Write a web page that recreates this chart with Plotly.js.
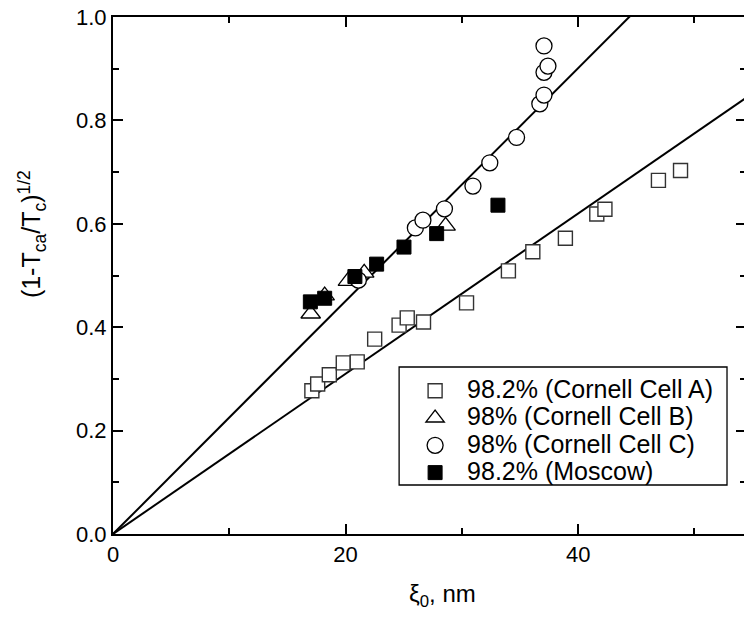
<!DOCTYPE html>
<html><head><meta charset="utf-8">
<script src="https://cdn.plot.ly/plotly-3.0.1.min.js"></script>
<style>html,body{margin:0;padding:0;overflow:hidden;background:#fff;width:744px;height:618px}#plot{width:746px;height:618px}</style>
</head><body><div id="plot"></div>
<script>
// Cornell Cell A (98.2%) - open squares
const cellA_x = [17.1, 17.6, 18.6, 19.8, 21.0, 22.5, 24.6, 25.3, 26.7, 30.4, 34.0, 36.1, 38.9, 41.6, 42.3, 46.9, 48.8];
const cellA_y = [0.277, 0.290, 0.308, 0.331, 0.333, 0.377, 0.404, 0.418, 0.410, 0.447, 0.509, 0.546, 0.572, 0.619, 0.628, 0.684, 0.703];
// Cornell Cell B (98%) - open triangles
const cellB_x = [17.0, 18.2, 20.2, 21.6, 28.6];
const cellB_y = [0.426, 0.461, 0.489, 0.505, 0.596];
// Cornell Cell C (98%) - open circles
const cellC_x = [21.1, 26.0, 26.65, 28.5, 30.95, 32.4, 34.7, 36.7, 37.06, 37.06, 37.4, 37.06];
const cellC_y = [0.491, 0.592, 0.607, 0.629, 0.673, 0.718, 0.767, 0.832, 0.849, 0.893, 0.905, 0.944];
// Moscow (98.2%) - filled squares
const moscow_x = [16.97, 18.2, 20.8, 22.67, 25.02, 27.83, 33.1];
const moscow_y = [0.449, 0.456, 0.498, 0.522, 0.555, 0.581, 0.636];
// linear fits through origin
const fitX = [0, 60];
const fitSlopes = [0.02253, 0.0155];
const seriesNames = ['98.2% (Cornell Cell A)', '98% (Cornell Cell B)', '98% (Cornell Cell C)', '98.2% (Moscow)'];

const font = 'Arial, "Liberation Sans", sans-serif';
const big = s => '<span style="font-size:25px">' + s + '</span>';
const traces = [];
fitSlopes.forEach(s => traces.push({
  x: fitX, y: fitX.map(v => v * s), mode: 'lines', showlegend: false,
  line: {color: '#000', width: 2}, hoverinfo: 'skip'
}));
traces.push({x: cellA_x, y: cellA_y, mode: 'markers', name: big(seriesNames[0]),
  marker: {symbol: 'square', size: 14, color: '#fff', line: {color: '#333', width: 1.4}}});
traces.push({x: cellB_x, y: cellB_y, mode: 'markers', name: big(seriesNames[1]),
  marker: {symbol: 'triangle-up', size: 17, color: '#fff', line: {color: '#000', width: 1.3}}});
traces.push({x: cellC_x, y: cellC_y, mode: 'markers', name: big(seriesNames[2]),
  marker: {symbol: 'circle', size: 16, color: '#fff', line: {color: '#000', width: 1.3}}});
traces.push({x: moscow_x, y: moscow_y, mode: 'markers', name: big(seriesNames[3]),
  marker: {symbol: 'square', size: 14, color: '#000', line: {color: '#000', width: 1}}});

const axisCommon = {
  showgrid: false, zeroline: false, showline: true, linecolor: '#000', linewidth: 2,
  mirror: 'ticks', ticks: 'inside', ticklen: 10, tickwidth: 2, tickcolor: '#000',
  tickfont: {family: font, size: 22, color: '#000'}
};
const layout = {
  width: 746, height: 618,
  margin: {l: 113, r: 0, t: 17, b: 84},
  paper_bgcolor: '#fff', plot_bgcolor: '#fff',
  xaxis: Object.assign({}, axisCommon, {range: [0, 54.43], dtick: 20, tick0: 0,
    minor: {dtick: 10, ticklen: 6, tickwidth: 2, tickcolor: '#000', ticks: 'inside'}}),
  yaxis: Object.assign({}, axisCommon, {range: [0, 1.0], dtick: 0.2, tick0: 0, tickformat: '.1f',
    minor: {dtick: 0.1, ticklen: 6, tickwidth: 2, tickcolor: '#000', ticks: 'inside'}}),
  showlegend: true,
  legend: {x: 0.4583, y: 0.3133, xanchor: 'left', yanchor: 'top',
    bordercolor: 'rgba(0,0,0,0)', borderwidth: 0, bgcolor: 'rgba(0,0,0,0)',
    font: {family: font, size: 18.7, color: '#000'}, itemwidth: 54, tracegroupgap: 0},
  shapes: [
    {type: 'rect', xref: 'paper', yref: 'paper', x0: 0.452, x1: 0.970, y0: 0.0948, y1: 0.323,
     line: {color: '#000', width: 1.3}, fillcolor: '#fff', layer: 'above'}
  ],
  annotations: [
    {xref: 'paper', yref: 'paper', x: -0.128, y: 0.58, text: '(1-T<sub>ca</sub>/T<sub>c</sub>)<sup>1/2</sup>',
     textangle: -90, showarrow: false, font: {family: font, size: 25, color: '#000'}, xanchor: 'center', yanchor: 'middle'},
    {xref: 'paper', yref: 'paper', x: 0.52, y: -0.118, text: 'ξ<sub>0</sub>, nm',
     showarrow: false, font: {family: font, size: 24, color: '#000'}, xanchor: 'center', yanchor: 'middle'}
  ]
};
Plotly.newPlot('plot', traces, layout, {staticPlot: true, displayModeBar: false});
</script></body></html>
